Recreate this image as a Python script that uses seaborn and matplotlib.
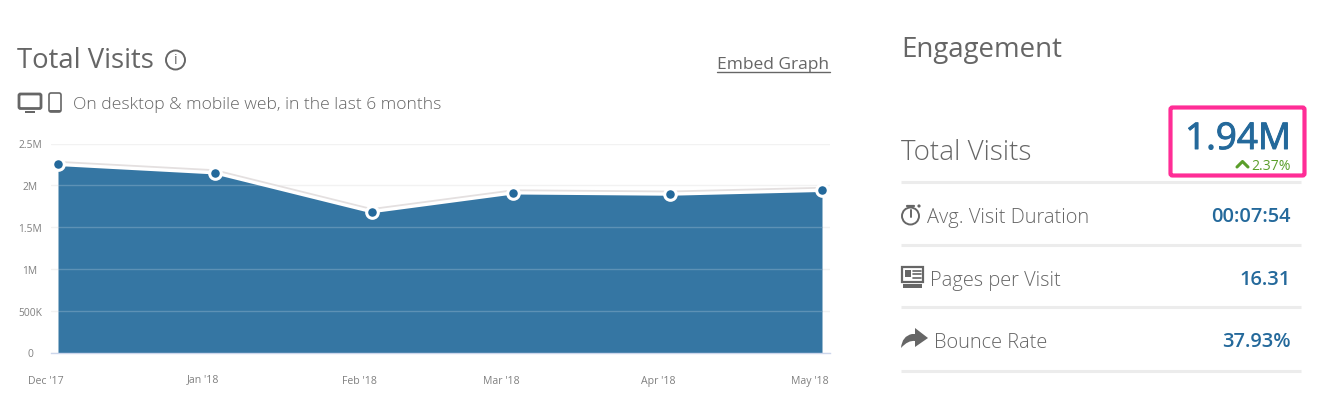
import pandas as pd
import seaborn as sns
import matplotlib.pyplot as plt
import matplotlib.patheffects as pe
from matplotlib.patches import Circle, FancyBboxPatch, Rectangle, PathPatch
from matplotlib.path import Path
from matplotlib.transforms import ScaledTranslation

months = ['2017-12-01', '2018-01-01', '2018-02-01', '2018-03-01', '2018-04-01', '2018-05-01']
month_labels = ["Dec '17", "Jan '18", "Feb '18", "Mar '18", "Apr '18", "May '18"]
visits = [2.25e6, 2.15e6, 1.685e6, 1.91e6, 1.895e6, 1.94e6]
y_ticks = [0, 500000, 1000000, 1500000, 2000000, 2500000]
y_labels = ['0', '500K', '1M', '1.5M', '2M', '2.5M']
row_names = ['Avg. Visit Duration', 'Pages per Visit', 'Bounce Rate']
row_values = ['00:07:54', '16.31', '37.93%']

sns.set_style('white')
plt.rcParams['font.family'] = ['Open Sans', 'DejaVu Sans']

GREY = '#666666'
BLUE = '#24699b'
W, H = 1339, 410

df = pd.DataFrame({'month': pd.to_datetime(months), 'visits': visits})

fig = plt.figure(figsize=(W / 100, H / 100), dpi=100)

# page furniture is laid out in pixels on a full figure axes
bg = fig.add_axes([0, 0, 1, 1])
bg.set_xlim(0, W)
bg.set_ylim(H, 0)
bg.axis('off')

def fs(px):
    return px * 0.72

bg.text(17, 68, 'Total Visits', fontsize=fs(27.5), color=GREY)
bg.add_patch(Circle((175.5, 61), 9.5, fill=False, ec=GREY, lw=1.4))
bg.text(175.5, 61, 'i', fontsize=fs(14), color=GREY, ha='center', va='center')
bg.text(717, 69, 'Embed Graph', fontsize=fs(17.4), color=GREY)
bg.plot([717, 830], [73, 73], color=GREY, lw=1)

# desktop + phone icons
bg.add_patch(FancyBboxPatch((19, 95), 22, 14.5, boxstyle='round,pad=0,rounding_size=1.5', fill=False, ec=GREY, lw=2))
bg.add_patch(Rectangle((25, 111.5), 10, 2, color=GREY, lw=0))
bg.add_patch(FancyBboxPatch((49, 94), 12, 19, boxstyle='round,pad=0,rounding_size=2', fill=False, ec=GREY, lw=1.2))
bg.add_patch(Rectangle((49, 110.5), 12, 2.5, color=GREY, lw=0))
bg.text(73, 109, 'On desktop & mobile web, in the last 6 months', fontsize=fs(17.5), color=GREY, weight='light')

bg.text(901, 57, 'Engagement', fontsize=fs(27.6), color=GREY)
bg.text(901, 160, 'Total Visits', fontsize=fs(27.8), color=GREY, weight='light')

bg.add_patch(FancyBboxPatch((1170.5, 108.5), 134, 68, boxstyle='round,pad=0,rounding_size=2', fill=False, ec='#ff2d96', lw=3))
bg.text(1291, 150, '1.94M', fontsize=fs(36.8), color=BLUE, ha='right',
        path_effects=[pe.withStroke(linewidth=0.7, foreground=BLUE)])
bg.text(1291, 170, '2.37%', fontsize=fs(14), color='#5a9e2a', ha='right')
bg.plot([1237, 1242.5, 1248], [168, 162.5, 168], color='#5a9e2a', lw=2.2)

for y in [183, 246, 308, 372]:
    bg.plot([901, 1301], [y, y], color='#ececec', lw=2.2, solid_capstyle='butt')

row_base = [223, 286, 348]
row_x = [927, 930, 934]
for name, val, x, y in zip(row_names, row_values, row_x, row_base):
    bg.text(x, y, name, fontsize=fs(20), color=GREY, weight='light')
    bg.text(1291, y - 0.5, val, fontsize=fs(20), color=BLUE, ha='right', weight='semibold')

# stopwatch
bg.add_patch(Circle((910.5, 217), 8.5, fill=False, ec=GREY, lw=1.4))
bg.plot([910.5, 910.5], [211, 218], color=GREY, lw=1.4)
bg.plot([907, 914], [206.5, 206.5], color=GREY, lw=1.6)
bg.add_patch(Circle((919, 207), 1.6, color=GREY, lw=0))
# newspaper
bg.add_patch(Rectangle((902, 268), 21, 15, fill=False, ec=GREY, lw=1.6))
bg.add_patch(Rectangle((905, 271), 6, 7, color=GREY, lw=0))
for y in [271.5, 275, 278.5]:
    bg.plot([913, 921], [y, y], color=GREY, lw=1.2)
bg.add_patch(Rectangle((903, 285), 19, 4, color=GREY, lw=0))
# share arrow
arrow = Path([(901, 349), (902, 337), (912, 335), (915, 335), (915, 329), (928, 339), (915, 348), (915, 342), (908, 341), (901, 349)],
             [Path.MOVETO, Path.CURVE3, Path.CURVE3, Path.LINETO, Path.LINETO, Path.LINETO, Path.LINETO, Path.LINETO, Path.CURVE3, Path.CURVE3])
bg.add_patch(PathPatch(arrow, color=GREY, lw=0))

# chart axes: 2.5M sits at y=144.5, 0 at y=353.5, Dec at x=58, May at x=822
ax = fig.add_axes([51 / W, 1 - 353.5 / H, (830 - 51) / W, (353.5 - 144.5) / H])
ax.patch.set_alpha(0)
px_per_day = (822 - 58) / 151
ax.set_xlim(df['month'].iloc[0] - pd.Timedelta(days=7 / px_per_day),
            df['month'].iloc[-1] + pd.Timedelta(days=8 / px_per_day))
ax.set_ylim(0, 2500000)

ax.grid(axis='y', color='#f2f2f2', lw=1)
ax.grid(axis='x', visible=False)
ax.set_axisbelow(True)
sns.despine(ax=ax, left=True, top=True, right=True)
ax.spines['bottom'].set_color('#ccd6eb')
ax.spines['bottom'].set_linewidth(1)

area = ax.fill_between(df['month'], df['visits'], color='#3576a3', lw=0)
clip = area.get_paths()[0]
for t in y_ticks[1:]:
    gl = ax.axhline(t, color='white', alpha=0.2, lw=1)
    gl.set_clip_path(clip, ax.transData)

sns.lineplot(data=df, x='month', y='visits', ax=ax, color='white', lw=2.4, clip_on=False,
             path_effects=[pe.SimpleLineShadow(offset=(0, 1.3), shadow_color='#e4e0e0', alpha=1), pe.Normal()])
sns.scatterplot(data=df, x='month', y='visits', ax=ax, color=BLUE, s=70, edgecolor='white', linewidth=2.2,
                clip_on=False, zorder=5)
ax.set_xlabel('')
ax.set_ylabel('')

ax.set_yticks(y_ticks)
ax.set_yticklabels(y_labels, ha='center')
ax.set_xticks(df['month'])
ax.set_xticklabels(month_labels)
ax.tick_params(axis='y', length=0, pad=15, labelsize=fs(10.3), labelcolor='#808080')
ax.tick_params(axis='x', length=4.5, width=1, color='#ccd6eb', pad=17.5, labelsize=fs(10.5), labelcolor='#808080')
for lab, text in zip(ax.get_xticklabels(), month_labels):
    lab.set_va('baseline')
    # the J hangs below the baseline and pushes its label down
    dy = 1.5 if text.startswith('J') else 0
    lab.set_transform(lab.get_transform() + ScaledTranslation(-12 / 100, dy / 100, fig.dpi_scale_trans))

fig.savefig('out.png', dpi=100)
